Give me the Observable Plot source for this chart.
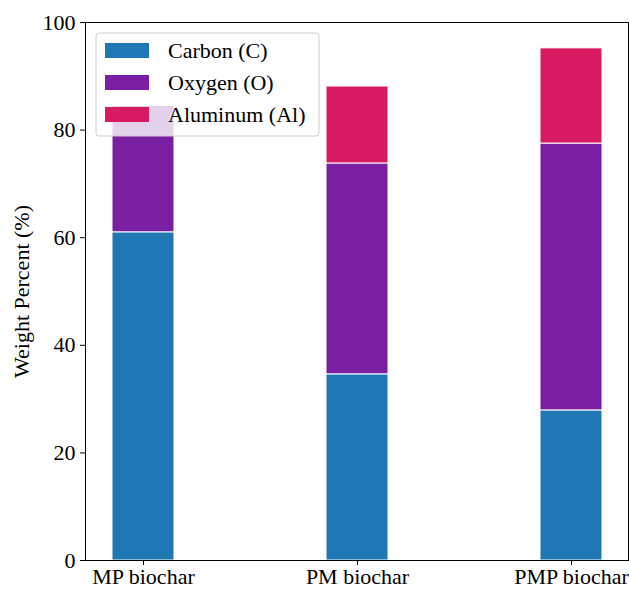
<!DOCTYPE html>
<html><head><meta charset="utf-8">
<script src="https://cdn.jsdelivr.net/npm/d3@7"></script>
<script src="https://cdn.jsdelivr.net/npm/@observablehq/plot@0.6"></script>
<style>body{margin:0;background:#fff}svg{font-family:"Liberation Serif","Times New Roman",serif}</style>
</head><body><div id="chart"></div>
<script>
const samples = ["MP biochar", "PM biochar", "PMP biochar"];
const elements = ["Carbon (C)", "Oxygen (O)", "Aluminum (Al)"];
const colors = ["#1f77b4", "#7b1fa2", "#d81b60"];
const carbon = [61.0, 34.6, 27.9];
const oxygen = [23.5, 39.2, 49.6];
const aluminum = [0, 14.3, 17.7];
const yTicks = [0, 20, 40, 60, 80, 100];

const series = [carbon, oxygen, aluminum];
const data = [];
elements.forEach((el, i) => samples.forEach((s, j) => data.push({sample: s, element: el, value: series[i][j]})));

const chart = Plot.plot({
  width: 629, height: 590,
  marginLeft: 85, marginRight: 1, marginTop: 22, marginBottom: 30,
  style: {fontFamily: '"Liberation Serif","Times New Roman",serif', fontSize: "22px", color: "#000", background: "#fff"},
  x: {domain: samples, paddingInner: 0.711, paddingOuter: 0.121, label: null, tickSize: 5, tickPadding: 3},
  y: {domain: [0, 100], ticks: yTicks, label: "Weight Percent (%)", labelAnchor: "center", labelArrow: "none", labelOffset: 72, tickSize: 5, tickPadding: 5},
  color: {domain: elements, range: colors},
  marks: [
    Plot.barY(data, {x: "sample", y: "value", fill: "element", stroke: "white", strokeWidth: 1, inset: 0}),
    Plot.frame({stroke: "#000", strokeWidth: 1})
  ]
});
document.getElementById("chart").appendChild(chart);

// legend inside the axes (upper left)
const svg = d3.select(chart);
const g = svg.append("g").attr("transform", "translate(96,33)").attr("text-anchor", "start");
g.append("rect").attr("width", 223).attr("height", 103).attr("rx", 3)
  .attr("fill", "white").attr("fill-opacity", 0.8).attr("stroke", "#ccc").attr("stroke-width", 1);
elements.forEach((el, i) => {
  const row = g.append("g").attr("transform", `translate(9,${10 + i * 32})`);
  row.append("rect").attr("width", 44).attr("height", 15).attr("fill", colors[i]);
  row.append("text").attr("x", 63).attr("y", 7.5).attr("dy", "0.35em")
    .attr("text-anchor", "start").style("font-size", "22px").attr("fill", "#000").text(el);
});
</script></body></html>
